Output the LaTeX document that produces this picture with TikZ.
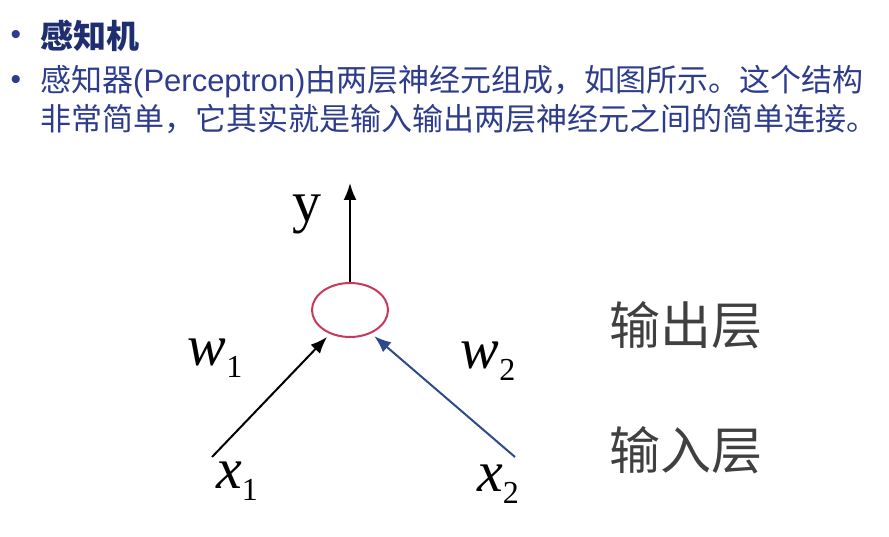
\documentclass[tikz,border=0pt]{standalone}
\usepackage{fontspec}
\setmainfont{Liberation Serif}
\newfontfamily\cjk{Noto Sans CJK SC}
\newfontfamily\arialf{Liberation Sans}
\usetikzlibrary{arrows.meta,shapes.geometric}
\definecolor{titleblue}{HTML}{1F2E6E}
\definecolor{bodyblue}{HTML}{2E3C8C}
\definecolor{neuronred}{HTML}{C8385A}
\definecolor{linkblue}{HTML}{2F4A8A}
\definecolor{layergray}{HTML}{404040}
\tikzset{
  bullet/.style={inner sep=0pt, text=bodyblue, font=\arialf\fontsize{30}{30}\selectfont},
  titletext/.style={anchor=west, inner sep=0pt, text=titleblue, font=\cjk\bfseries\fontsize{33}{33}\selectfont},
  bodytext/.style={anchor=west, inner sep=0pt, text=bodyblue, font=\cjk\fontsize{31}{31}\selectfont},
  neuron/.style={ellipse, draw=neuronred, line width=2pt, minimum width=76pt, minimum height=54pt, inner sep=0pt},
  mathlbl/.style={inner sep=0pt, font=\fontsize{58}{58}\selectfont},
  layer/.style={inner sep=0pt, text=layergray, font=\cjk\fontsize{51}{51}\selectfont},
  conn/.style={line width=2pt, shorten >=4pt, -{Latex[length=17pt,width=13pt]}},
}
\newcommand{\sub}[1]{\raisebox{-0.2em}{\upshape\fontsize{32}{32}\selectfont #1}}
\begin{document}
\begin{tikzpicture}[x=1pt,y=-1pt]
\useasboundingbox (0,0) rectangle (889,537);
\node[bullet] (b1) at (16,38) {•};
\node[titletext] (title) at (40,36) {感知机};
\node[bullet] (b2) at (16,83) {•};
\node[bodytext] (l1) at (40,82) {感知器{\arialf (Perceptron)}由两层神经元组成，如图所示。这个结构};
\node[bodytext] (l2) at (40,119) {非常简单，它其实就是输入输出两层神经元之间的简单连接。};
\node[neuron] (n) at (350,310) {};
\coordinate (ytop) at (350,183);
\draw[conn, shorten >=0pt] (n.north) -- (ytop);
\node[mathlbl] (y) at (307,214) {y};
\node[mathlbl] (w1) at (215,358) {\itshape w\sub{1}};
\node[mathlbl] (w2) at (488,361) {\itshape w\sub{2}};
\node[mathlbl] (x1) at (237,481) {\itshape x\sub{1}};
\node[mathlbl] (x2) at (498,484) {\itshape x\sub{2}};
\coordinate (s1) at (212,457);
\coordinate (s2) at (515,457);
\draw[conn] (s1) -- (n.-130);
\draw[conn, draw=linkblue, -{Latex[length=17pt,width=13pt,fill=linkblue]}] (s2) -- (n.-48);
\node[layer] (out) at (686,325) {输出层};
\node[layer] (in) at (686,450) {输入层};
\end{tikzpicture}
\end{document}
